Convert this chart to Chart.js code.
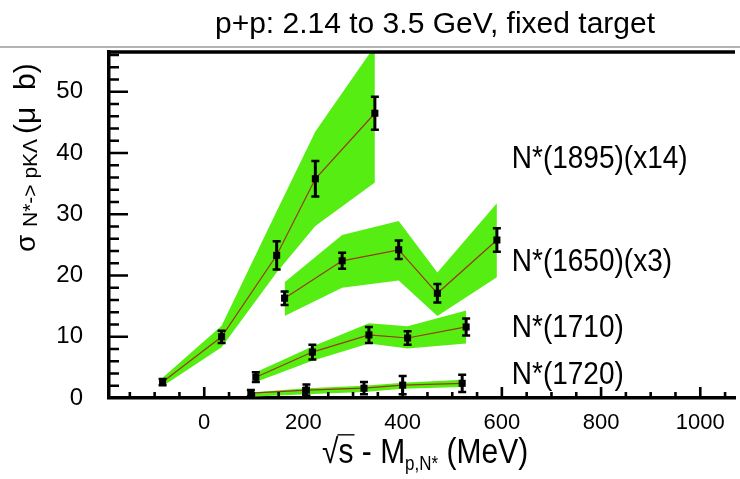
<!DOCTYPE html>
<html><head><meta charset="utf-8">
<script src="https://cdn.jsdelivr.net/npm/chart.js@4.4.1/dist/chart.umd.min.js"></script>
<style>html,body{margin:0;padding:0;background:#fff;overflow:hidden}#wrap{width:740px;height:479px;position:relative}</style>
</head><body><div id="wrap"><canvas id="c" width="740" height="479"></canvas></div>
<script>
// ---- data ----
const xTickLabels = [0, 200, 400, 600, 800, 1000];
const yTickLabels = [0, 10, 20, 30, 40, 50];
const seriesNames = ['N*(1895)(x14)', 'N*(1650)(x3)', 'N*(1710)', 'N*(1720)'];

const x1895 = [-84, 35, 146, 224, 344];
const y1895 = [2.6, 10.0, 23.3, 35.8, 46.5];
const err1895 = [0.5, 1.0, 2.3, 2.9, 2.7];
const lo1895 = [1.9, 8.3, 20.5, 28.1, 35.2];
const hi1895 = [3.3, 11.8, 30.5, 43.5, 57.5];

const x1650 = [162, 278, 392, 470, 590];
const y1650 = [16.3, 22.4, 24.2, 17.1, 25.8];
const err1650 = [1.1, 1.3, 1.5, 1.5, 1.9];
const lo1650 = [13.4, 18.0, 19.2, 13.4, 19.7];
const hi1650 = [18.9, 26.6, 28.9, 20.5, 31.8];

const x1710 = [104, 218, 332, 410, 528];
const y1710 = [3.4, 7.5, 10.3, 9.8, 11.6];
const err1710 = [0.8, 1.2, 1.3, 1.1, 1.4];
const lo1710 = [2.6, 6.1, 8.9, 8.1, 8.9];
const hi1710 = [4.2, 8.4, 12.2, 11.7, 14.3];

const x1720 = [94, 206, 322, 400, 520];
const y1720 = [0.8, 1.3, 1.6, 2.1, 2.4];
const err1720 = [0.5, 0.9, 1.0, 1.5, 1.4];
const lo1720 = [0.2, 0.6, 1.0, 1.5, 1.8];
const hi1720 = [0.9, 1.6, 2.0, 2.5, 3.0];

// ---- build ----
const FONT = "'Liberation Sans', Arial, Helvetica, sans-serif";
const GREEN = 'rgb(86,238,18)';
const LINE = 'rgb(150,58,20)';
const series = [
  {xs: x1895, ys: y1895, es: err1895, lo: lo1895, hi: hi1895},
  {xs: x1650, ys: y1650, es: err1650, lo: lo1650, hi: hi1650},
  {xs: x1710, ys: y1710, es: err1710, lo: lo1710, hi: hi1710},
  {xs: x1720, ys: y1720, es: err1720, lo: lo1720, hi: hi1720}
];
const pts = (xs, ys) => xs.map((x, i) => ({x: x, y: ys[i]}));
const datasets = [];
series.forEach((s, k) => {
  datasets.push({label: seriesNames[k] + ' hi', data: pts(s.xs, s.hi), showLine: true, fill: '+1',
    backgroundColor: GREEN, borderColor: 'rgba(0,0,0,0)', borderWidth: 1, pointRadius: 0, order: 3, tension: 0});
  datasets.push({label: seriesNames[k] + ' lo', data: pts(s.xs, s.lo), showLine: true, fill: false,
    borderColor: 'rgba(0,0,0,0)', borderWidth: 1, pointRadius: 0, order: 3, tension: 0});
});
series.forEach((s, k) => {
  datasets.push({label: seriesNames[k], data: pts(s.xs, s.ys), showLine: true, fill: false,
    borderColor: LINE, borderWidth: 1.2, pointStyle: 'rect', pointRadius: 5,
    pointBackgroundColor: '#000', pointBorderColor: '#000', pointBorderWidth: 0, order: 1, tension: 0,
    errors: s.es});
});

const decor = {
  id: 'decor',
  afterDatasetsDraw(chart) {
    const ctx = chart.ctx, xs = chart.scales.x, ys = chart.scales.y, a = chart.chartArea;
    ctx.save();
    // error bars
    ctx.strokeStyle = '#000';
    chart.data.datasets.forEach(ds => {
      if (!ds.errors) return;
      ds.data.forEach((p, i) => {
        const e = ds.errors[i];
        const px = xs.getPixelForValue(p.x);
        const t = ys.getPixelForValue(p.y + e), b = ys.getPixelForValue(p.y - e);
        ctx.lineWidth = 3;
        ctx.beginPath(); ctx.moveTo(px, t); ctx.lineTo(px, b); ctx.stroke();
        ctx.lineWidth = 2.5;
        ctx.beginPath();
        ctx.moveTo(px - 4, t); ctx.lineTo(px + 4, t);
        ctx.moveTo(px - 4, b); ctx.lineTo(px + 4, b);
        ctx.stroke();
      });
    });
    // inner ticks
    ctx.lineWidth = 2.6;
    ctx.beginPath();
    for (let v = -150; v <= 1050; v += 50) {
      const p = xs.getPixelForValue(v);
      const major = v % 200 === 0;
      ctx.moveTo(p, a.bottom); ctx.lineTo(p, a.bottom - (major ? 11 : 6));
    }
    for (let v = 2; v <= 56; v += 2) {
      const p = ys.getPixelForValue(v);
      const major = v % 10 === 0;
      ctx.moveTo(a.left, p); ctx.lineTo(a.left + (major ? 19 : 10), p);
    }
    ctx.stroke();
    // top frame
    ctx.lineWidth = 3.5;
    ctx.beginPath(); ctx.moveTo(a.left - 1.75, a.top); ctx.lineTo(a.right, a.top); ctx.stroke();
    ctx.restore();
  },
  afterDraw(chart) {
    const ctx = chart.ctx, xs = chart.scales.x, ys = chart.scales.y;
    ctx.save();
    ctx.fillStyle = '#000';
    ctx.textAlign = 'left';
    ctx.textBaseline = 'alphabetic';
    // title + separator
    ctx.font = '30px ' + FONT;
    ctx.textAlign = 'center';
    ctx.fillText('p+p: 2.14 to 3.5 GeV, fixed target', 435, 33);
    ctx.strokeStyle = '#9a9a9a'; ctx.lineWidth = 1.5;
    ctx.beginPath(); ctx.moveTo(0, 47); ctx.lineTo(740, 47); ctx.stroke();
    ctx.textAlign = 'left';
    // series labels
    const anchorsY = [37.5, 20.8, 9.9, 2.3];
    seriesNames.forEach((n, k) => {
      ctx.save();
      ctx.translate(xs.getPixelForValue(620), ys.getPixelForValue(anchorsY[k]));
      ctx.scale(1, 1.13);
      ctx.font = '28px ' + FONT;
      ctx.fillText(n, 0, 0);
      ctx.restore();
    });
    // x axis title
    ctx.save();
    ctx.translate(322, 463);
    ctx.scale(1, 1.15);
    ctx.font = '30px ' + FONT;
    let x = 0;
    ctx.fillText('\u221A', x, 0); x += ctx.measureText('\u221A').width;
    const sw = ctx.measureText('s').width;
    ctx.lineWidth = 1.2; ctx.strokeStyle = '#000';
    ctx.beginPath(); ctx.moveTo(x - 1, -24.5); ctx.lineTo(x + sw + 1, -24.5); ctx.stroke();
    ctx.fillText('s - M', x, 0); x += ctx.measureText('s - M').width;
    ctx.font = '17px ' + FONT;
    ctx.fillText('p,N*', x, 6); x += ctx.measureText('p,N*').width;
    ctx.font = '30px ' + FONT;
    ctx.fillText(' (MeV)', x, 0);
    ctx.restore();
    // y axis title
    ctx.save();
    ctx.translate(35, 252);
    ctx.rotate(-Math.PI / 2);
    ctx.font = '28px ' + FONT;
    ctx.fillText('\u03C3', 0, 0);
    ctx.font = '21px ' + FONT;
    ctx.fillText('N*-> pK\u039B', 25, 2);
    ctx.font = '30px ' + FONT;
    ctx.fillText('(\u03BC  b)', 118, 0);
    ctx.restore();
    ctx.restore();
  }
};

new Chart(document.getElementById('c'), {
  type: 'scatter',
  data: {datasets: datasets},
  options: {
    responsive: false,
    animation: false,
    layout: {padding: {top: 52, left: 0, right: 0, bottom: 0}},
    plugins: {legend: {display: false}, tooltip: {enabled: false}, title: {display: false}},
    scales: {
      x: {
        type: 'linear', min: -192, max: 1070,
        grid: {display: false, drawTicks: false},
        border: {display: true, color: '#000', width: 3.5},
        afterFit(s) { s.height = 81; },
        afterBuildTicks(s) { s.ticks = xTickLabels.map(v => ({value: v})); },
        ticks: {font: {family: FONT, size: 22}, color: '#000', padding: 12, maxRotation: 0, autoSkip: false,
          callback: v => String(v)}
      },
      y: {
        type: 'linear', min: 0, max: 56.5,
        grid: {display: false, drawTicks: false},
        border: {display: true, color: '#000', width: 3.5},
        afterFit(s) { s.width = 109; },
        afterBuildTicks(s) { s.ticks = yTickLabels.map(v => ({value: v})); },
        ticks: {font: {family: FONT, size: 24}, color: '#000', padding: 26, autoSkip: false,
          callback: v => String(v)}
      }
    }
  },
  plugins: [decor]
});
</script>
</body></html>
